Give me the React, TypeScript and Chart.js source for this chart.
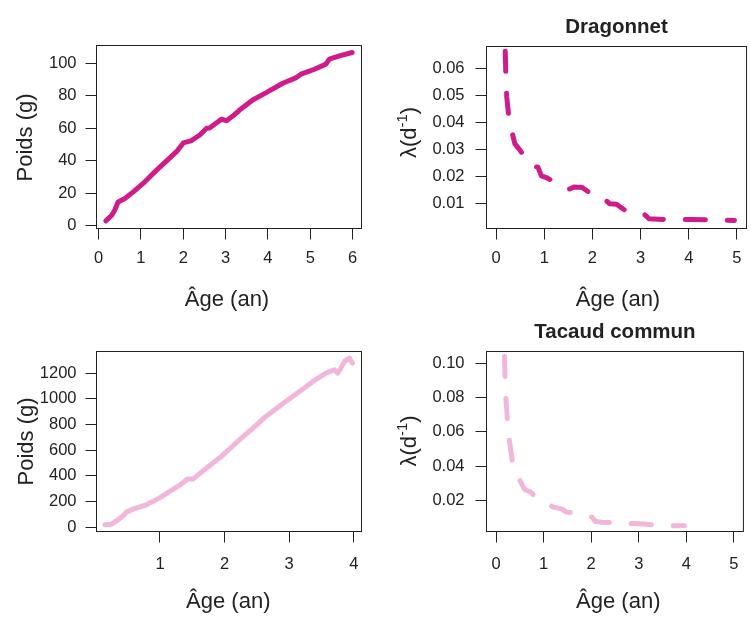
import React, { useEffect, useRef } from "react";
import { Chart, registerables } from "chart.js";

Chart.register(...registerables);

// ---------------- data ----------------
const dragonnetAge = [0.17, 0.31, 0.38, 0.46, 0.62, 0.82, 1.05, 1.37, 1.6, 1.84, 2.0, 2.11, 2.18, 2.39, 2.55, 2.62, 2.9, 3.02, 3.17, 3.33, 3.64, 3.96, 4.35, 4.67, 4.78, 5.06, 5.37, 5.45, 5.69, 5.99];
const dragonnetPoids = [2.9, 6.4, 9.5, 14.6, 16.7, 20.8, 26, 34.2, 39.8, 45.6, 51, 51.8, 52.3, 55.9, 60, 60.2, 65.6, 64.7, 67.6, 71.3, 77.5, 82, 87.8, 91.3, 93.4, 96, 99.6, 102.7, 104.7, 106.8];

const dragonnetLambdaAge = [0.19, 0.2, 0.22, 0.26, 0.33, 0.39, 0.5, 0.73, 0.87, 0.94, 1.04, 1.35, 1.52, 1.62, 1.79, 2.09, 2.23, 2.36, 2.5, 2.77, 3.08, 3.18, 3.52, 4.06, 4.95];
const dragonnetLambda = [0.0665, 0.0584, 0.0497, 0.0428, 0.0366, 0.0322, 0.0297, 0.0241, 0.0235, 0.0203, 0.0197, 0.0169, 0.0154, 0.0162, 0.016, 0.0122, 0.0119, 0.01, 0.0098, 0.0064, 0.006, 0.0044, 0.0041, 0.0041, 0.0038];

const tacaudAge = [0.15, 0.25, 0.35, 0.43, 0.48, 0.58, 0.79, 0.99, 1.15, 1.3, 1.43, 1.51, 1.72, 1.92, 2.13, 2.26, 2.44, 2.64, 2.9, 3.16, 3.37, 3.57, 3.7, 3.75, 3.8, 3.86, 3.93, 3.98];
const tacaudPoids = [18, 23, 57, 88, 117, 140, 174, 226, 278, 325, 374, 374, 460, 538, 634, 694, 771, 862, 961, 1057, 1135, 1200, 1226, 1200, 1239, 1291, 1317, 1278];

const tacaudLambdaAge = [0.18, 0.19, 0.21, 0.24, 0.29, 0.34, 0.5, 0.6, 0.73, 0.8, 1.07, 1.21, 1.38, 1.48, 1.89, 2.02, 2.09, 2.23, 2.64, 3.11, 3.45, 3.96];
const tacaudLambda = [0.1039, 0.0902, 0.0785, 0.0668, 0.0532, 0.0434, 0.0317, 0.0264, 0.0249, 0.0229, 0.018, 0.0161, 0.0151, 0.0132, 0.0118, 0.0102, 0.0077, 0.0073, 0.0067, 0.0063, 0.0054, 0.0052];

// tick labels
const xTicksDragonnetPoids = [0, 1, 2, 3, 4, 5, 6];
const yTicksDragonnetPoids = [0, 20, 40, 60, 80, 100];
const xTicksLambda = [0, 1, 2, 3, 4, 5];
const yTicksDragonnetLambda = [0.01, 0.02, 0.03, 0.04, 0.05, 0.06];
const xTicksTacaudPoids = [1, 2, 3, 4];
const yTicksTacaudPoids = [0, 200, 400, 600, 800, 1000, 1200];
const yTicksTacaudLambda = [0.02, 0.04, 0.06, 0.08, 0.1];

const titles = ["", "Dragonnet", "", "Tacaud commun"];
const xLabel = "Âge (an)";
const yLabelPoids = "Poids (g)";

// ---------------- styling / layout ----------------
const W = 751;
const H = 617;
const FONT = "'Liberation Sans', Arial, Helvetica, sans-serif";
const INK = "#222222";
const DARK = "#d01c8b";
const LIGHT = "#f1b6da";

type Box = { l: number; t: number; r: number; b: number };
type PanelCfg = {
  ages: number[];
  values: number[];
  color: string;
  dashed: boolean;
  box: Box;
  xMin: number;
  xMax: number;
  yMin: number;
  yMax: number;
  xTicks: number[];
  yTicks: number[];
  yDec: number;
  lambda: boolean;
  yLabelX: number;
  yLabelY: number;
  xLabelX: number;
  xLabelY: number;
  title: string;
  titleY: number;
  xPad: number;
  yPad: number;
};

const panels: PanelCfg[] = [
  {
    ages: dragonnetAge, values: dragonnetPoids, color: DARK, dashed: false,
    box: { l: 96.5, t: 45.5, r: 361.5, b: 228.5 },
    xMin: -0.05, xMax: 6.21, yMin: -1.8, yMax: 111.1,
    xTicks: xTicksDragonnetPoids, yTicks: yTicksDragonnetPoids, yDec: 0,
    lambda: false, yLabelX: 31.5, yLabelY: 137.5, xLabelX: 227, xLabelY: 306,
    title: titles[0], titleY: 33, xPad: 9.5, yPad: 9,
  },
  {
    ages: dragonnetLambdaAge, values: dragonnetLambda, color: DARK, dashed: true,
    box: { l: 486.5, t: 46.5, r: 750.5, b: 228.5 },
    xMin: -0.2, xMax: 5.2, yMin: 0.0008, yMax: 0.0683,
    xTicks: xTicksLambda, yTicks: yTicksDragonnetLambda, yDec: 2,
    lambda: true, yLabelX: 416, yLabelY: 132.5, xLabelX: 618, xLabelY: 305.5,
    title: titles[1], titleY: 33.3, xPad: 9.5, yPad: 11,
  },
  {
    ages: tacaudAge, values: tacaudPoids, color: LIGHT, dashed: false,
    box: { l: 96.5, t: 351.5, r: 361.5, b: 531.5 },
    xMin: 0.017, xMax: 4.12, yMin: -34, yMax: 1368,
    xTicks: xTicksTacaudPoids, yTicks: yTicksTacaudPoids, yDec: 0,
    lambda: false, yLabelX: 32.5, yLabelY: 441.5, xLabelX: 228.3, xLabelY: 608.3,
    title: titles[2], titleY: 337.7, xPad: 12.5, yPad: 9,
  },
  {
    ages: tacaudLambdaAge, values: tacaudLambda, color: LIGHT, dashed: true,
    box: { l: 486.5, t: 351.5, r: 750.5, b: 531.5 },
    xMin: -0.2, xMax: 5.2, yMin: 0.0019, yMax: 0.1068,
    xTicks: xTicksLambda, yTicks: yTicksTacaudLambda, yDec: 2,
    lambda: true, yLabelX: 416, yLabelY: 441, xLabelX: 618.3, xLabelY: 608.3,
    title: titles[3], titleY: 337.7, xPad: 12.5, yPad: 11,
  },
];

const Y_AXIS_W = 60;
const X_AXIS_H = 40;

function makeDecor(p: PanelCfg) {
  return {
    id: "decor",
    afterDraw(chart: any) {
      const ctx: CanvasRenderingContext2D = chart.ctx;
      const a = chart.chartArea;
      ctx.save();
      // box
      ctx.strokeStyle = INK;
      ctx.lineWidth = 1;
      ctx.strokeRect(a.left, a.top, a.right - a.left, a.bottom - a.top);

      ctx.fillStyle = INK;
      // x axis title
      ctx.font = `22px ${FONT}`;
      ctx.textAlign = "center";
      ctx.textBaseline = "alphabetic";
      ctx.fillText(xLabel, p.xLabelX, p.xLabelY);

      // y axis title (rotated)
      ctx.save();
      ctx.translate(p.yLabelX, p.yLabelY);
      ctx.rotate(-Math.PI / 2);
      if (!p.lambda) {
        ctx.font = `22px ${FONT}`;
        ctx.textAlign = "center";
        ctx.fillText(yLabelPoids, 0, 0);
      } else {
        const main1 = "λ(d";
        const sup = "-1";
        const main2 = ")";
        ctx.textAlign = "left";
        ctx.font = `22px ${FONT}`;
        const w1 = ctx.measureText(main1).width;
        const w3 = ctx.measureText(main2).width;
        ctx.font = `15px ${FONT}`;
        const w2 = ctx.measureText(sup).width;
        const total = w1 + w2 + w3;
        let x = -total / 2;
        ctx.font = `22px ${FONT}`;
        ctx.fillText(main1, x, 0);
        x += w1;
        ctx.font = `15px ${FONT}`;
        ctx.fillText(sup, x, -9);
        x += w2;
        ctx.font = `22px ${FONT}`;
        ctx.fillText(main2, x, 0);
      }
      ctx.restore();

      // main title
      if (p.title) {
        ctx.font = `bold 20.5px ${FONT}`;
        ctx.textAlign = "center";
        ctx.textBaseline = "alphabetic";
        ctx.fillText(p.title, (a.left + a.right) / 2, p.titleY);
      }
      ctx.restore();
    },
  };
}

function Panel({ p }: { p: PanelCfg }) {
  const ref = useRef<HTMLCanvasElement>(null);
  useEffect(() => {
    const canvas = ref.current;
    if (!canvas) return;
    const data = p.ages.map((a, i) => ({ x: a, y: p.values[i] }));
    const tickFont = { family: FONT, size: 16.5 };
    const chart = new Chart(canvas, {
      type: "line",
      data: {
        datasets: [
          {
            data,
            borderColor: p.color,
            backgroundColor: p.color,
            borderWidth: 5,
            pointRadius: 0,
            pointHoverRadius: 0,
            fill: false,
            tension: 0,
            borderCapStyle: "round",
            borderJoinStyle: "round",
            borderDash: p.dashed ? [20, 22] : [],
          } as any,
        ],
      },
      options: {
        animation: false,
        responsive: false,
        devicePixelRatio: 1,
        events: [],
        layout: {
          padding: {
            left: p.box.l - Y_AXIS_W,
            top: p.box.t,
            right: W - p.box.r,
            bottom: H - p.box.b - X_AXIS_H,
          },
        },
        plugins: {
          legend: { display: false },
          tooltip: { enabled: false },
          title: { display: false },
        },
        scales: {
          x: {
            type: "linear",
            position: "bottom",
            min: p.xMin,
            max: p.xMax,
            afterFit: (s: any) => {
              s.height = X_AXIS_H;
            },
            afterBuildTicks: (s: any) => {
              s.ticks = p.xTicks.map((v) => ({ value: v }));
            },
            ticks: {
              autoSkip: false,
              maxRotation: 0,
              minRotation: 0,
              padding: p.xPad,
              color: INK,
              font: tickFont,
              callback: (v: any) => String(v),
            },
            grid: {
              display: true,
              drawOnChartArea: false,
              drawTicks: true,
              tickLength: 11,
              color: INK,
              lineWidth: 1,
            },
            border: { display: false },
          },
          y: {
            type: "linear",
            position: "left",
            min: p.yMin,
            max: p.yMax,
            afterFit: (s: any) => {
              s.width = Y_AXIS_W;
            },
            afterBuildTicks: (s: any) => {
              s.ticks = p.yTicks.map((v) => ({ value: v }));
            },
            ticks: {
              autoSkip: false,
              padding: p.yPad,
              color: INK,
              font: tickFont,
              callback: (v: any) => Number(v).toFixed(p.yDec),
            },
            grid: {
              display: true,
              drawOnChartArea: false,
              drawTicks: true,
              tickLength: 11,
              color: INK,
              lineWidth: 1,
            },
            border: { display: false },
          },
        },
      } as any,
      plugins: [makeDecor(p)],
    });
    return () => chart.destroy();
  }, [p]);
  return (
    <canvas
      ref={ref}
      width={W}
      height={H}
      style={{ position: "absolute", left: 0, top: 0, width: W, height: H }}
    />
  );
}

export default function App() {
  return (
    <div
      style={{
        position: "absolute",
        left: 0,
        top: 0,
        width: W,
        height: H,
        background: "#ffffff",
        overflow: "hidden",
      }}
    >
      {panels.map((p, i) => (
        <Panel key={i} p={p} />
      ))}
    </div>
  );
}
